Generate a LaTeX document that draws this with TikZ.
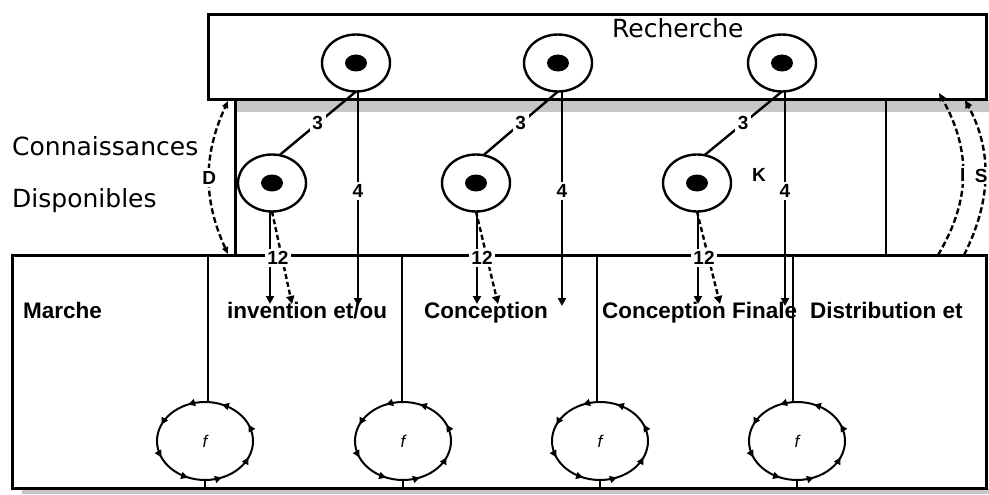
\documentclass[tikz,border=0pt]{standalone}
\usepackage{fontspec}
\setmainfont{DejaVu Sans}
\newfontfamily\labfont{Liberation Sans}
\usetikzlibrary{shapes.geometric,arrows.meta,decorations.markings,calc}

\begin{document}
\begin{tikzpicture}[x=1pt,y=-1pt,
  box/.style={draw, rectangle, line width=3pt, inner sep=0pt, outer sep=0pt},
  token/.style={draw, ellipse, line width=2.4pt, minimum width=68pt, minimum height=57pt, inner sep=0pt, outer sep=0pt},
  loopnode/.style={draw, ellipse, line width=2pt, minimum width=96pt, minimum height=78pt,
    inner sep=0pt, outer sep=0pt, font=\labfont\itshape\fontsize{17}{17}\selectfont,
    postaction={decorate, decoration={markings,
      mark=between positions 0.0625 and 1 step 0.125 with {\arrow{Triangle[length=7pt,width=7pt]}}}}},
  conn/.style={line width=2.4pt},
  flow/.style={line width=2.4pt, -{Triangle[length=8pt,width=8pt]}},
  dflow/.style={flow, dash pattern=on 5pt off 3pt},
  arcline/.style={line width=2.4pt, dash pattern=on 6pt off 3pt},
  numlbl/.style={fill=white, inner sep=2.5pt, font=\labfont\bfseries\fontsize{19}{19}\selectfont},
  stage/.style={anchor=base west, inner sep=0pt, font=\labfont\bfseries\fontsize{22.5}{22.5}\selectfont},
  sidetext/.style={anchor=base west, inner sep=0pt, font=\fontsize{25}{25}\selectfont},
]
\useasboundingbox (0,0) rectangle (989,495);

% drop shadows under the two boxes
\fill[gray!45] (235,100) rectangle (989,112);
\fill[gray!45] (22,488) rectangle (989,494);

% the two boxes
\node[box, minimum width=778pt, minimum height=85pt] (rech) at (597,57.5) {};
\node[box, minimum width=974pt, minimum height=233pt] (bas) at (499,371.5) {};

% texts
\node[sidetext] (rtxt) at (612,37.7) {Recherche};
\node[sidetext] (ctxt) at (12,155.5) {Connaissances};
\node[sidetext] (dtxt) at (12,207.5) {Disponibles};

\node[stage] (s1) at (23,318) {Marche};
\node[stage] (s2) at (227,318) {invention et/ou};
\node[stage] (s3) at (424,318) {Conception};
\node[stage] (s4) at (602,318) {Conception Finale};
\node[stage] (s5) at (810,318) {Distribution et};

% vertical lines between the boxes
\coordinate (v1) at (235,0);
\coordinate (v2) at (886,0);
\draw[line width=3pt] (v1 |- rech.south) -- (v1 |- bas.north);
\draw[line width=1.8pt] (v2 |- rech.south) -- (v2 |- bas.north);

% marked places
\node[token] (t1) at (356,63) {};
\node[token] (t2) at (558,63) {};
\node[token] (t3) at (782,63) {};
\node[token] (l1) at (272,183) {};
\node[token] (l2) at (476,183) {};
\node[token] (l3) at (697,183) {};
\foreach \p in {t1,t2,t3,l1,l2,l3} {\fill (\p) ellipse (11 and 8.5);}

% arcs 3 and 4
\coordinate (e1) at (358,306);
\coordinate (e2) at (562,306);
\coordinate (e3) at (785,306);
\foreach \i in {1,2,3} {
  \draw[conn] (t\i.south) -- node[numlbl] {3} (l\i.75);
  \draw[flow] (t\i.south -| e\i) -- node[numlbl, pos=0.466] {4} (e\i);
}

% arcs 12
\coordinate (a1) at (270,304); \coordinate (b1) at (292,304);
\coordinate (a2) at (477,304); \coordinate (b2) at (498,304);
\coordinate (a3) at (698,304); \coordinate (b3) at (720,304);
\foreach \i in {1,2,3} {
  \draw[flow] (l\i.south -| a\i) -- (a\i);
  \draw[dflow] (l\i.south) -- (b\i);
}
\node[numlbl] (n1) at (278,258) {12};
\node[numlbl] (n2) at (482,258) {12};
\node[numlbl] (n3) at (704,258) {12};

\node[font=\labfont\bfseries\fontsize{19}{19}\selectfont, inner sep=0pt] (k) at (759,175) {K};

% D, I and S arcs
\coordinate (dA) at (228,254); \coordinate (dB) at (228,101);
\draw[arcline, {Triangle[length=7pt,width=6pt]}-{Triangle[length=7pt,width=6pt]}]
  (dA) .. controls (203,200) and (203,155) .. node[numlbl] {D} (dB);
\coordinate (iA) at (938,255); \coordinate (iB) at (939,93);
\draw[arcline, -{Triangle[length=8pt,width=7pt]}]
  (iA) .. controls (971,200) and (971,150) .. node[numlbl] {I} (iB);
\coordinate (sA) at (964,255); \coordinate (sB) at (965,100);
\draw[arcline, -{Triangle[length=8pt,width=7pt]}]
  (sA) .. controls (992,200) and (992,150) .. node[numlbl, inner sep=1.5pt, xshift=-4pt] {S} (sB);

% function cycles and the lines above and below them
\coordinate (d1) at (208,0);
\coordinate (d2) at (402,0);
\coordinate (d3) at (597,0);
\coordinate (d4) at (793,0);
\node[loopnode] (f1) at (205,441) {f};
\node[loopnode] (f2) at (403,441) {f};
\node[loopnode] (f3) at (600,441) {f};
\node[loopnode] (f4) at (797,441) {f};
\draw[line width=2.8pt] (d1 |- bas.north) -- (d1 |- f1.north);
\draw[line width=1.8pt] (d2 |- bas.north) -- (d2 |- f2.north);
\draw[line width=2.8pt] (d3 |- bas.north) -- (d3 |- f3.north);
\draw[line width=2.8pt] (d4 |- bas.north) -- (d4 |- f4.north);
\foreach \i in {1,2,3,4} {\draw[line width=1.8pt] (f\i.south) -- (f\i.south |- bas.south);}
\end{tikzpicture}
\end{document}
